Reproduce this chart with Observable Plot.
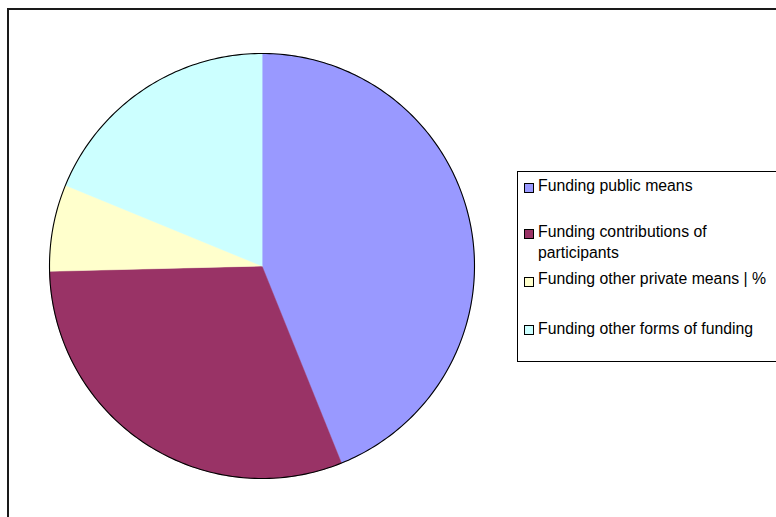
<!DOCTYPE html>
<html>
<head>
<meta charset="utf-8">
<script src="https://cdn.jsdelivr.net/npm/d3@7"></script>
<script src="https://cdn.jsdelivr.net/npm/@observablehq/plot@0.6"></script>
<style>
  html, body { margin: 0; padding: 0; background: #fff; overflow: hidden; width: 776px; height: 517px; }
  #wrap { position: relative; width: 776px; height: 517px; overflow: hidden; }
  #frame { position: absolute; left: 7px; top: 8px; width: 900px; height: 700px;
           border-top: 2px solid #1a1a1a; border-left: 2px solid #1a1a1a; box-sizing: border-box; }
  #chart { position: absolute; left: 0; top: 0; }
  #legend { position: absolute; left: 517px; top: 171px; width: 400px; height: 191px;
            border: 1px solid #000; box-sizing: border-box; background: #fff; }
  .item { position: absolute; left: 0; font-family: "Liberation Sans", Arial, sans-serif;
          font-size: 15.8px; color: #000; line-height: 20.5px; }
  .sw { position: absolute; width: 10px; height: 10px; border: 1px solid #000; box-sizing: border-box; }
  .tx { position: absolute; left: 20px; white-space: nowrap; }
</style>
</head>
<body>
<div id="wrap">
  <div id="frame"></div>
  <div id="chart"></div>
  <div id="legend"></div>
</div>
<script>
// Data
const categories = [
  "Funding public means",
  "Funding contributions of participants",
  "Funding other private means | %",
  "Funding other forms of funding"
];
const values = [43.9, 30.7, 6.6, 18.8];
const colors = ["#9999FF", "#993366", "#FFFFCC", "#CCFFFF"];
// legend label lines (as shown)
const legendLines = [
  ["Funding public means"],
  ["Funding contributions of", "participants"],
  ["Funding other private means | %"],
  ["Funding other forms of funding"]
];

// Build slice polygons in unit-circle space (clockwise from 12 o'clock)
const total = d3.sum(values);
let acc = 0;
const slices = categories.map((c, i) => {
  const a0 = acc / total * 2 * Math.PI;
  acc += values[i];
  const a1 = acc / total * 2 * Math.PI;
  const n = Math.max(2, Math.ceil((a1 - a0) / 0.01));
  const ring = [[0, 0]];
  for (let k = 0; k <= n; k++) {
    const a = a0 + (a1 - a0) * k / n;
    ring.push([Math.sin(a), Math.cos(a)]);
  }
  ring.push([0, 0]);
  return {type: "Feature", properties: {name: c, value: values[i]}, geometry: {type: "Polygon", coordinates: [ring]}};
});
const circleRing = d3.range(0, 361).map(d => {
  const a = d / 360 * 2 * Math.PI;
  return [Math.sin(a), Math.cos(a)];
});
const outline = {type: "Feature", geometry: {type: "LineString", coordinates: circleRing}};

const chart = Plot.plot({
  width: 776,
  height: 517,
  marginLeft: 49,
  marginTop: 53,
  marginRight: 302,
  marginBottom: 39,
  projection: {type: "reflect-y", domain: {type: "MultiPoint", coordinates: [[-1, -1], [1, 1]]}},
  color: {domain: categories, range: colors},
  style: {background: "transparent"},
  marks: [
    Plot.geo(slices, {fill: d => d.properties.name, stroke: d => d.properties.name, strokeWidth: 0.5}),
    Plot.geo([outline], {stroke: "#000", strokeWidth: 1.1, fill: "none"})
  ]
});
document.getElementById("chart").appendChild(chart);

// Legend (HTML)
const legend = document.getElementById("legend");
const swTop = [11, 57, 105, 153];   // swatch tops relative to box
const txTop = [4, 50, 97, 147];     // text block tops relative to box
categories.forEach((c, i) => {
  const item = document.createElement("div");
  item.className = "item";
  item.style.top = "0px";
  const sw = document.createElement("div");
  sw.className = "sw";
  sw.style.left = "6px";
  sw.style.top = swTop[i] + "px";
  sw.style.background = colors[i];
  const tx = document.createElement("div");
  tx.className = "tx";
  tx.style.top = txTop[i] + "px";
  tx.innerHTML = legendLines[i].join("<br>");
  item.appendChild(sw);
  item.appendChild(tx);
  legend.appendChild(item);
});
</script>
</body>
</html>
